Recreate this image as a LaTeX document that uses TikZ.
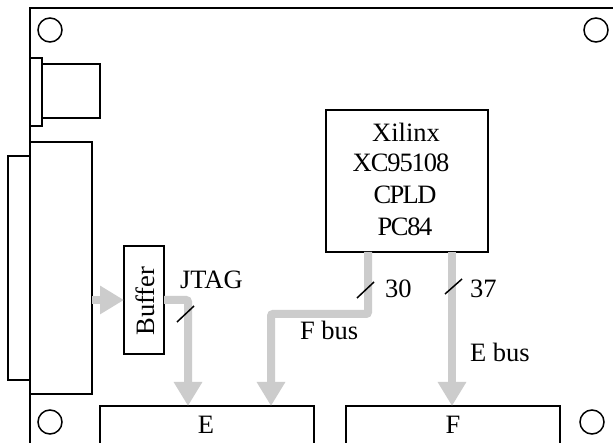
\documentclass[tikz,border=0pt]{standalone}
\usepackage{fontspec}
\setmainfont{Liberation Serif}
\usetikzlibrary{arrows.meta}
\definecolor{busgray}{HTML}{CCCCCC}
\tikzset{
  part/.style={draw=black,line width=1.8pt,inner sep=0pt,outer sep=0pt,fill=white},
  hole/.style={draw=black,line width=1.5pt,circle,minimum size=24pt,inner sep=0pt,outer sep=0pt},
  bus/.style={draw=busgray,line width=8pt,rounded corners=2pt,-{Triangle[length=24pt,width=27pt]}},
  tick/.style={draw=black,line width=1.5pt},
  lbl/.style={inner sep=0pt,outer sep=0pt,anchor=base,font=\fontsize{26.5}{30}\selectfont},
}
\newcommand{\boxat}[5]{\node[part,minimum width=#4pt-#2pt,minimum height=#5pt-#3pt] (#1) at ({(#2+#4)/2},{(#3+#5)/2}) {};}
\begin{document}
\begin{tikzpicture}[x=1pt,y=-1pt]
\clip (0,0) rectangle (613,443);
\fill[white] (0,0) rectangle (613,443);
\boxat{board}{30}{8}{660}{480}
\node[hole] (h1) at (50,30) {};
\node[hole] (h2) at (596,30) {};
\node[hole] (h3) at (50,422) {};
\node[hole] (h4) at (592,422) {};
\boxat{dsub}{8}{156}{30}{380}
\boxat{hdr}{30}{142}{92}{394}
\boxat{jackb}{42}{64}{100}{118}
\boxat{jacka}{30}{58}{42}{126}
\boxat{buf}{124}{246}{164}{354}
\boxat{cpld}{326}{110}{488}{252}
\boxat{conE}{100}{406}{314}{480}
\boxat{conF}{346}{406}{560}{480}
\coordinate (jtagend) at (188,406);
\coordinate (fbusend) at (271,406);
\coordinate (fbusstart) at (368,252);
\coordinate (ebusstart) at (452,252);
\coordinate (ebusend) at (452,406);
\coordinate (bufin) at (124,300);
\coordinate (hdrout) at (92,300);
\draw[bus] (hdrout) -- (bufin);
\draw[bus] (buf.east |- hdrout) -- (jtagend |- hdrout) -- (jtagend);
\draw[bus] (fbusstart) -- (368,314) -- (271,314) -- (fbusend);
\draw[bus] (ebusstart) -- (ebusend);
\coordinate (t1a) at (177,322); \coordinate (t1b) at (194,306);
\coordinate (t2a) at (357,298); \coordinate (t2b) at (374,282);
\coordinate (t3a) at (445,294); \coordinate (t3b) at (462,279);
\draw[tick] (t1a) -- (t1b);
\draw[tick] (t2a) -- (t2b);
\draw[tick] (t3a) -- (t3b);
\node[lbl] (xil) at (406,142) {Xilinx};
\node[lbl] (xc) at (401,172) {\addfontfeature{LetterSpace=-4}XC95108};
\node[lbl] (cp) at (405,204) {\addfontfeature{LetterSpace=-6}CPLD};
\node[lbl] (pc) at (405,236) {\addfontfeature{LetterSpace=-5}PC84};
\node[lbl,anchor=center,rotate=90] (buft) at (145,301) {Buffer};
\node[lbl,anchor=base west] (jt) at (180,289) {JTAG};
\node[lbl,anchor=base west] (n30) at (385,298) {30};
\node[lbl,anchor=base west] (n37) at (470,298) {37};
\node[lbl,anchor=base west] (fb) at (300,340) {F bus};
\node[lbl,anchor=base west] (eb) at (470,362) {E bus};
\node[lbl] (et) at (206,433) {E};
\node[lbl] (ft) at (453,433) {F};
\end{tikzpicture}
\end{document}
